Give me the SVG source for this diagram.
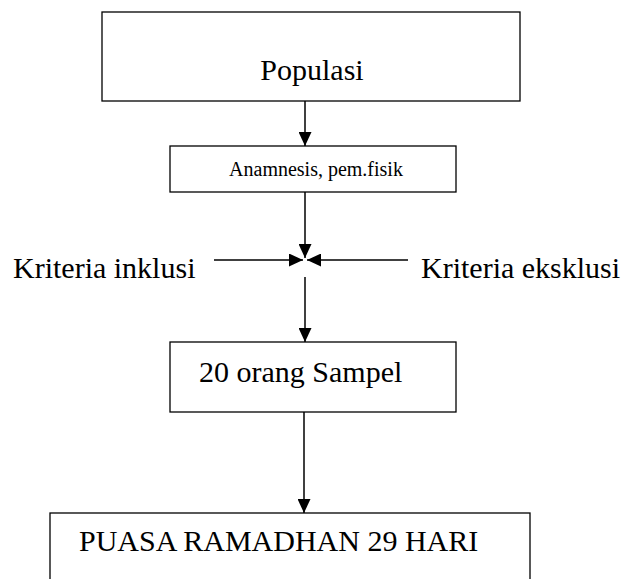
<svg xmlns="http://www.w3.org/2000/svg" width="624" height="579" viewBox="0 0 624 579">
  <style>
    .box { fill: #ffffff; stroke: #000000; stroke-width: 1.3; }
    .lbl { font-family: "Liberation Serif", "Times New Roman", serif; fill: #000000; }
    .big { font-size: 30px; }
    .small { font-size: 20px; }
    .wire { stroke: #000000; stroke-width: 1.5; fill: none; marker-end: url(#head); }
  </style>
  <defs>
    <marker id="head" viewBox="0 0 14 13" refX="14" refY="6.5" markerWidth="14" markerHeight="13" markerUnits="userSpaceOnUse" orient="auto">
      <path d="M0,0 L14,6.5 L0,13 z" fill="#000000"/>
    </marker>
  </defs>
  <rect width="624" height="579" fill="#ffffff"/>

  <g id="populasi">
    <rect class="box" x="102" y="12" width="418" height="89"/>
    <text class="lbl big" x="312" y="80" text-anchor="middle">Populasi</text>
  </g>

  <g id="anamnesis">
    <rect class="box" x="170" y="146" width="286" height="46"/>
    <text class="lbl small" x="316" y="176" text-anchor="middle">Anamnesis, pem.fisik</text>
  </g>

  <g id="kriteria-inklusi">
    <text class="lbl big" x="13" y="278">Kriteria inklusi</text>
  </g>

  <g id="kriteria-eksklusi">
    <text class="lbl big" x="421" y="278">Kriteria eksklusi</text>
  </g>

  <g id="sampel">
    <rect class="box" x="170" y="342" width="286" height="70"/>
    <text class="lbl big" x="199" y="382">20 orang Sampel</text>
  </g>

  <g id="puasa">
    <rect class="box" x="50" y="513" width="480" height="80"/>
    <text class="lbl big" x="79" y="551">PUASA RAMADHAN 29 HARI</text>
  </g>

  <g id="connectors">
    <line class="wire" x1="305" y1="101" x2="305" y2="146"/>
    <line class="wire" x1="305" y1="192" x2="305" y2="258"/>
    <line class="wire" x1="214" y1="260" x2="303" y2="260"/>
    <line class="wire" x1="408" y1="260" x2="307" y2="260"/>
    <line class="wire" x1="305" y1="277" x2="305" y2="342"/>
    <line class="wire" x1="304" y1="412" x2="304" y2="513"/>
  </g>
</svg>
